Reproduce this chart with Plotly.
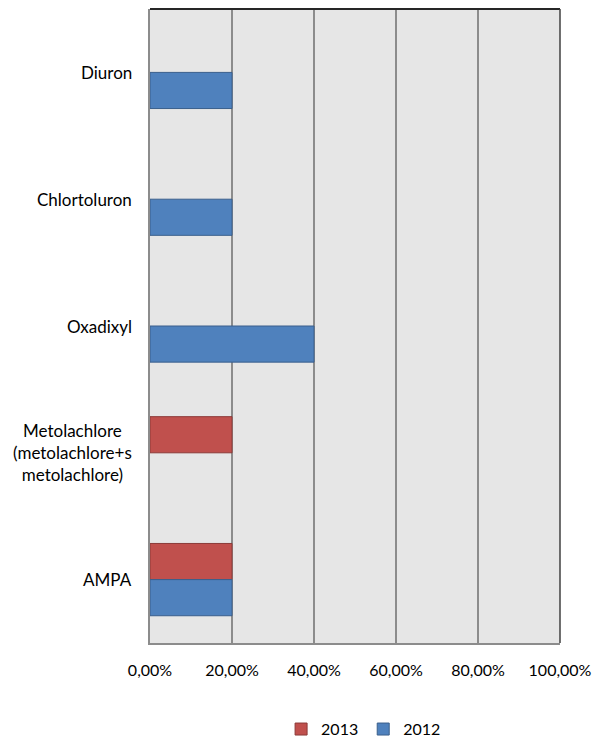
import plotly.graph_objects as go

# Substances, top to bottom
categories = ["Diuron", "Chlortoluron", "Oxadixyl",
              "Metolachlore<br>(metolachlore+s<br>metolachlore)", "AMPA"]

# Share of samples (fraction), None where no detection
values_2013 = [None, None, None, 0.20, 0.20]
values_2012 = [0.20, 0.20, 0.40, None, 0.20]

x_ticks = [0, 0.2, 0.4, 0.6, 0.8, 1.0]

font_family = "Lato, Carlito, Calibri, sans-serif"

fig = go.Figure()
fig.add_trace(go.Bar(
    name="2013", y=categories, x=values_2013, orientation="h",
    marker=dict(color="#C0504D", line=dict(color="#8C3A38", width=1)),
))
fig.add_trace(go.Bar(
    name="2012", y=categories, x=values_2012, orientation="h",
    marker=dict(color="#4F81BD", line=dict(color="#3A5F8C", width=1)),
))

# Category labels: right-aligned block, lines centred within it
for cat in categories:
    fig.add_annotation(
        x=0, xref="paper", xshift=-16, xanchor="right",
        y=cat, yref="y", yanchor="middle",
        text=cat, showarrow=False, align="center",
        font=dict(family=font_family, size=17, color="#000000"),
    )

# Plot-area outline on the top and right edges
fig.add_shape(type="line", xref="paper", yref="paper", x0=0, x1=1, y0=1, y1=1,
              line=dict(color="#262626", width=2))
fig.add_shape(type="line", xref="paper", yref="paper", x0=1, x1=1, y0=0, y1=1,
              line=dict(color="#404040", width=1.5))

fig.update_layout(
    width=598, height=741,
    margin=dict(l=150, r=38, t=9, b=98, autoexpand=False),
    paper_bgcolor="#FFFFFF",
    plot_bgcolor="#E6E6E6",
    barmode="group",
    bargap=0.43,
    bargroupgap=0,
    separators=", ",
    font=dict(family=font_family, size=16, color="#000000"),
    showlegend=True,
    legend=dict(
        orientation="h", xref="container", x=0.608, xanchor="center",
        yref="container", y=0.016, yanchor="middle",
        traceorder="normal", font=dict(family=font_family, size=16),
        itemwidth=30, tracegroupgap=0,
    ),
    xaxis=dict(
        range=[0, 1.0], tickvals=x_ticks, tickformat=".2%",
        showgrid=True, gridcolor="#8C8C8C", gridwidth=2,
        showline=True, linecolor="#8C8C8C", linewidth=2,
        zeroline=False, ticks="", ticklabelstandoff=12,
        fixedrange=True,
    ),
    yaxis=dict(
        categoryorder="array", categoryarray=categories,
        autorange="reversed", showticklabels=False,
        showgrid=False, showline=True, linecolor="#8C8C8C", linewidth=2,
        zeroline=False, ticks="", fixedrange=True,
    ),
)

fig.write_html("out.html")
